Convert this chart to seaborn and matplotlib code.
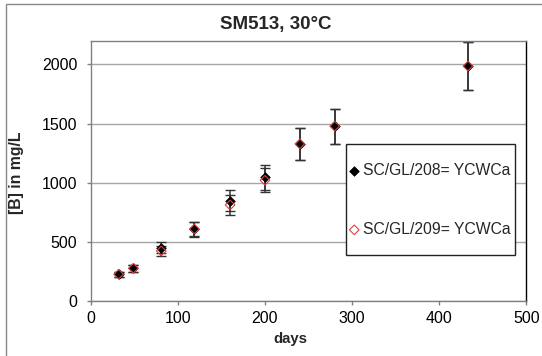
import matplotlib
matplotlib.use('Agg')
import matplotlib.pyplot as plt
import seaborn as sns
from matplotlib.patches import Rectangle

# values
days = [32, 49, 81, 119, 160, 200, 240, 280, 433]
b_208 = [226, 277, 451, 606, 849, 1047, 1328, 1478, 1986]
b_209 = [226, 277, 423, 609, 812, 1020, 1328, 1478, 1986]
err_208 = [23, 28, 45, 61, 85, 105, 133, 148, 199]
err_209 = [23, 28, 42, 61, 81, 102, 133, 148, 199]
label_208 = 'SC/GL/208= YCWCa'
label_209 = 'SC/GL/209= YCWCa'

sns.set_style('white')
plt.rcParams['font.family'] = ['Liberation Sans', 'DejaVu Sans']

W, H = 542, 356
fig = plt.figure(figsize=(W / 100, H / 100), dpi=100)
ax = fig.add_axes([90.7 / W, 1 - 301 / H, 435.6 / W, 260.3 / H])

# outer chart border (only left and top edges are visible in the picture)
fig.patches.append(Rectangle((5.7 / W, -0.1), 1.2, 1.1 - 4.3 / H, transform=fig.transFigure,
                             fill=False, edgecolor='#888888', linewidth=1.0))

ax.errorbar(days, b_208, yerr=err_208, fmt='none', ecolor='#333333', elinewidth=1.1,
            capsize=3.5, capthick=1.0, zorder=2)
ax.errorbar(days, b_209, yerr=err_209, fmt='none', ecolor='#333333', elinewidth=1.1,
            capsize=3.5, capthick=1.0, zorder=2)

sns.scatterplot(x=days, y=b_208, marker='D', color='black', edgecolor='black',
                linewidth=0.5, s=24, ax=ax, label=label_208, zorder=3)
sns.scatterplot(x=days, y=b_209, marker='D', facecolor='none', edgecolor='#dd4040',
                linewidth=0.8, s=24, ax=ax, label=label_209, zorder=4)

ax.set_xlim(0, 500)
ax.set_ylim(0, 2200)
ax.set_xticks([0, 100, 200, 300, 400, 500])
ax.set_yticks([0, 500, 1000, 1500, 2000])
ax.yaxis.grid(True, color='#a6a6a6', linewidth=1.0)
ax.xaxis.grid(False)
ax.set_axisbelow(True)

for side in ['left', 'bottom', 'top']:
    ax.spines[side].set_color('#808080')
    ax.spines[side].set_linewidth(1.0)
ax.spines['right'].set_color('black')
ax.spines['right'].set_linewidth(1.0)

ax.tick_params(axis='both', which='major', direction='out', length=3.2, width=1.0,
               color='#808080', labelsize=11.5, labelcolor='black')
ax.tick_params(axis='y', pad=6.5, left=True)
ax.tick_params(axis='x', pad=4.3, bottom=True)

ax.set_xlabel('')
ax.set_ylabel('')
fig.text(276 / W, 1 - 24 / H, 'SM513, 30°C', ha='center', va='center',
         fontsize=13.5, fontweight='bold')
fig.text(290 / W, 1 - 339 / H, 'days', ha='center', va='center',
         fontsize=10.7, fontweight='bold')
fig.text(17 / W, 1 - 173 / H, '[B] in mg/L', ha='center', va='center', rotation=90,
         fontsize=11.4, fontweight='bold')

# legend box drawn separately for the wide top/bottom padding
ax.add_patch(Rectangle((346.4 / W, 1 - 255.3 / H), (515.3 - 346.4) / W,
                       (255.3 - 143.7) / H, transform=fig.transFigure, clip_on=False,
                       fill=True, facecolor='white', edgecolor='#222222',
                       linewidth=1.0, zorder=5))
leg = ax.legend(loc='center left', bbox_to_anchor=(346.4 / W, 1 - 200 / H),
                bbox_transform=fig.transFigure, frameon=False, fontsize=11.3,
                borderpad=0.2, handlelength=0.6, handletextpad=0.26,
                labelspacing=2.8, scatterpoints=1, borderaxespad=0)
leg.set_zorder(10)

fig.savefig('out.png', dpi=100)
